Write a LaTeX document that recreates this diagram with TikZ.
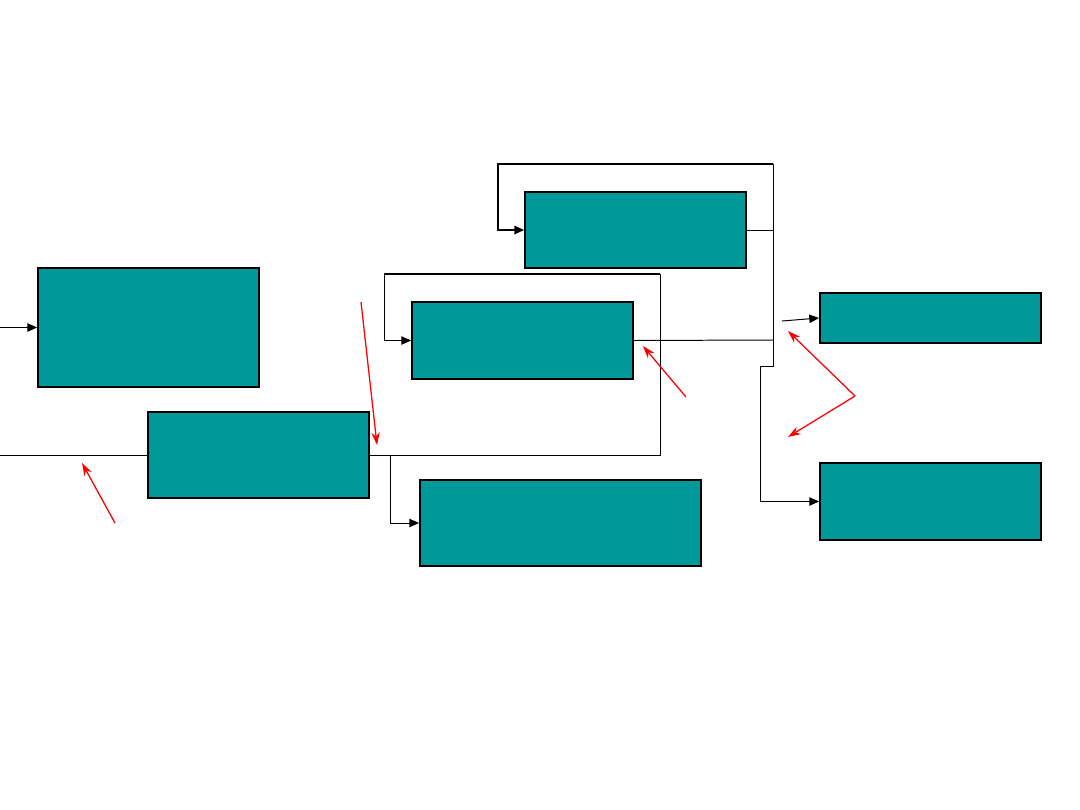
\documentclass[tikz,border=0pt]{standalone}
\usetikzlibrary{arrows.meta}
\begin{document}
\begin{tikzpicture}[x=0.025cm,y=-0.025cm,line width=0.7pt,>={Triangle[length=7pt,width=6pt]},
  blk/.style={draw,line width=1.2pt,fill={rgb,255:red,0;green,153;blue,153},inner sep=0pt,minimum width=5.525cm},
  hint/.style={red,line width=0.9pt,-{Stealth[length=9pt,width=6pt]}}]
\useasboundingbox (0,0) rectangle (1080,810);
\node[blk,minimum height=1.9cm] (loop) at (635.5,230) {};
\node[blk,minimum height=1.925cm] (mid) at (522.5,340.5) {};
\node[blk,minimum height=2.975cm] (upleft) at (148.5,327.5) {};
\node[blk,minimum height=2.15cm] (lowleft) at (258.5,455) {};
\node[blk,minimum width=7.025cm,minimum height=2.15cm] (bottom) at (560.5,523) {};
\node[blk,minimum height=1.25cm] (rup) at (930.5,318) {};
\node[blk,minimum height=1.925cm] (rlow) at (930.5,501.5) {};
\coordinate (inup) at (0,327.5);
\coordinate (inlow) at (0,455);
\coordinate (split) at (390,455);
\coordinate (bus) at (773,164);
\coordinate (jog) at (773,366);
\coordinate (tap) at (782,321);
\coordinate (backR) at (660,274);
\coordinate (backL) at (384,274);
\draw[->] (inup) -- (upleft.west);
\draw (inlow) -- (lowleft.west);
\draw (lowleft.east) -| (backR);
\draw[line width=1.4pt] (backR) -- (backL);
\draw[->] (backL) |- (mid.west);
\draw[->] (split) |- (bottom.west);
\draw (loop.east) -| (bus);
\draw[->,line width=1.4pt] (bus) -| (498,230) -- (loop.west);
\draw (mid.east) -- (773,340);
\draw[->] (bus) -- (jog) -- (760,366) |- (rlow.west);
\draw[->] (tap) -- (rup.west);
% red pointers
\draw[hint] (361,302) -- (377,445);
\draw[hint] (115,523) -- (82,463);
\draw[hint] (686,397) -- (643,346);
\draw[hint] (855,396) -- (788,331);
\draw[hint] (855,396) -- (788,437);
\end{tikzpicture}
\end{document}
